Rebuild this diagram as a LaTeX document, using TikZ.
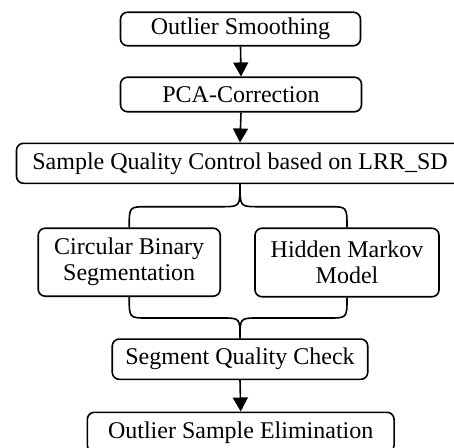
\documentclass[tikz,border=0pt]{standalone}
\usepackage{fontspec}
\setmainfont{Liberation Serif}
\usetikzlibrary{arrows.meta}

\tikzset{
  stage/.style={draw, rounded corners=7pt, line width=1.6pt, inner sep=0pt,
    align=center, font=\fontsize{24}{26}\selectfont},
  flow/.style={line width=1.6pt, -{Triangle[length=14pt,width=15pt]}},
  brace/.style={line width=1.6pt}
}

\begin{document}
\begin{tikzpicture}[x=1pt, y=-1pt]
  \useasboundingbox (0,0) rectangle (454,447);
  \clip (0,0) rectangle (454,447);

  % pipeline stages
  \node[stage, minimum width=240pt, minimum height=33.5pt] (os)   at (240.5,29)    {Outlier Smoothing};
  \node[stage, minimum width=241pt, minimum height=34.5pt] (pca)  at (241,94.5)    {PCA-Correction};
  \node[stage, minimum width=447pt, minimum height=40pt]   (sqc)  at (240,163.3)   {Sample Quality Control based on LRR\_SD};
  \node[stage, minimum width=182pt, minimum height=68pt]   (cbs)  at (129.2,262.2) {Circular Binary\\Segmentation};
  \node[stage, minimum width=184pt, minimum height=68.5pt] (hmm)  at (347,262.5)   {Hidden Markov\\Model};
  \node[stage, minimum width=255.5pt, minimum height=40.3pt] (sqch) at (240,359.2) {Segment Quality Check};
  \node[stage, minimum width=306.7pt, minimum height=40pt] (ose)  at (240.7,432.3) {Outlier Sample Elimination};

  % straight steps
  \draw[flow] (os.south)   -- (pca.north);
  \draw[flow] (pca.south)  -- (sqc.north);
  \draw[flow] (sqch.south) -- (ose.north);

  % levels of the split and merge braces
  \coordinate (ub) at (0,206.7);
  \coordinate (lb) at (0,318);

  % split brace
  \draw[brace] (cbs.north) .. controls (cbs.north |- ub) .. ([xshift=18pt]cbs.north |- ub)
    -- ([xshift=-18pt]sqc.south |- ub) .. controls (sqc.south |- ub) .. (sqc.south);
  \draw[brace] (hmm.north) .. controls (hmm.north |- ub) .. ([xshift=-18pt]hmm.north |- ub)
    -- ([xshift=18pt]sqc.south |- ub) .. controls (sqc.south |- ub) .. (sqc.south);

  % merge brace
  \draw[brace] (cbs.south) .. controls (cbs.south |- lb) .. ([xshift=18pt]cbs.south |- lb)
    -- ([xshift=-18pt]sqch.north |- lb) .. controls (sqch.north |- lb) .. (sqch.north);
  \draw[brace] (hmm.south) .. controls (hmm.south |- lb) .. ([xshift=-18pt]hmm.south |- lb)
    -- ([xshift=18pt]sqch.north |- lb) .. controls (sqch.north |- lb) .. (sqch.north);
\end{tikzpicture}
\end{document}
